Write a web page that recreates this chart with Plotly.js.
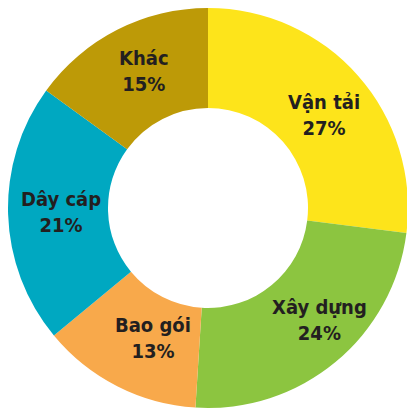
<!DOCTYPE html>
<html>
<head>
<meta charset="utf-8">
<script src="https://cdn.plot.ly/plotly-3.0.1.min.js"></script>
<style>
html,body{margin:0;padding:0;overflow:hidden;background:#fff;}
#chart{width:416px;height:416px;}
</style>
</head>
<body>
<div id="chart"></div>
<script>
const labels = ["Vận tải", "Xây dựng", "Bao gói", "Dây cáp", "Khác"];
const values = [27, 24, 13, 21, 15];
const colors = ["#FDE41B", "#8CC540", "#F8A94B", "#00A8C1", "#BD9A07"];

const W = 416, H = 416;
const cx = 208, cy = 208, R = 200, HOLE = 0.5;
// small hand nudges of the label text (pixels, right / down), as in the original artwork
const labelNudge = [[3, 6], [16, -4], [13, -4], [3, -1], [4, -3]];

const trace = {
  type: "pie",
  labels: labels,
  values: values,
  hole: HOLE,
  sort: false,
  direction: "clockwise",
  rotation: 0,
  marker: {colors: colors, line: {width: 0}},
  textinfo: "none",
  hoverinfo: "none",
  showlegend: false,
  domain: {x: [(cx - R)/W, (cx + R)/W], y: [(H - cy - R)/H, (H - cy + R)/H]}
};

// labels placed at the middle of each ring segment, derived from the data
const total = values.reduce((a, b) => a + b, 0);
const rMid = R * (1 + HOLE) / 2;
let cum = 0;
const annotations = labels.map((lab, i) => {
  const mid = (cum + values[i] / 2) / total * 2 * Math.PI;
  cum += values[i];
  const px = cx + rMid * Math.sin(mid) + labelNudge[i][0];
  const py = cy - rMid * Math.cos(mid) + labelNudge[i][1];
  return {
    x: px / W, y: 1 - py / H, xref: "paper", yref: "paper",
    xanchor: "center", yanchor: "middle", showarrow: false,
    text: lab + "<br>" + values[i] + "%",
    font: {family: "'DejaVu Sans Condensed', 'DejaVu Sans', sans-serif", size: 20, color: "#231F20", weight: "bold", stretch: "condensed"}
  };
});

Plotly.newPlot("chart", [trace], {
  width: W, height: H,
  margin: {l: 0, r: 0, t: 0, b: 0},
  paper_bgcolor: "#fff",
  showlegend: false,
  annotations: annotations
}, {staticPlot: true});
</script>
</body>
</html>
